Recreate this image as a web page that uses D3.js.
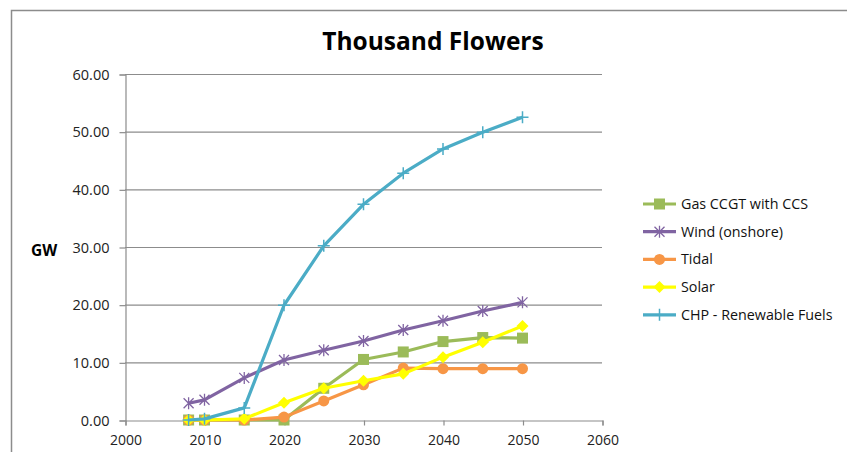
<!DOCTYPE html>
<html>
<head>
<meta charset="utf-8">
<script src="https://cdn.jsdelivr.net/npm/d3@7"></script>
<style>
  body { margin: 0; background: #fff; }
  svg { display: block; }
  text { font-family: "Open Sans", "Noto Sans", sans-serif; }
</style>
</head>
<body>
<svg id="chart" width="847" height="452"></svg>
<script>
// data
const years      = [2008, 2010, 2015, 2020, 2025, 2030, 2035, 2040, 2045, 2050];
const gasCcgt    = [0, 0, 0, 0, 5.5, 10.5, 11.8, 13.6, 14.3, 14.2];
const windOn     = [2.9, 3.5, 7.3, 10.4, 12.1, 13.7, 15.6, 17.2, 18.9, 20.4];
const tidal      = [0, 0, 0, 0.5, 3.3, 6.1, 9.0, 8.9, 8.9, 8.9];
const solar      = [0, 0, 0.2, 3.0, 5.5, 6.8, 8.0, 10.9, 13.5, 16.3];
const chpRenew   = [0, 0.2, 2.1, 19.9, 30.2, 37.4, 42.8, 47.0, 49.9, 52.5];
const seriesNames = ["Gas CCGT with CCS", "Wind (onshore)", "Tidal", "Solar", "CHP - Renewable Fuels"];
const xTicks = [2000, 2010, 2020, 2030, 2040, 2050, 2060];
const yTicks = [0, 10, 20, 30, 40, 50, 60];

const series = [
  {name: seriesNames[0], values: gasCcgt,  color: "#9bbb59", marker: "square"},
  {name: seriesNames[1], values: windOn,   color: "#8064a2", marker: "star"},
  {name: seriesNames[2], values: tidal,    color: "#f79646", marker: "circle"},
  {name: seriesNames[3], values: solar,    color: "#ffff00", marker: "diamond"},
  {name: seriesNames[4], values: chpRenew, color: "#4bacc6", marker: "plus"}
];

const svg = d3.select("#chart");
const axisColor = "#8c8c8c";

// outer chart frame
svg.append("path")
  .attr("d", "M11.5,452 L11.5,10.5 L847,10.5")
  .attr("fill", "none").attr("stroke", axisColor).attr("stroke-width", 1.5);

const plot = {left: 125, right: 602, top: 74, bottom: 420};
const x = d3.scaleLinear().domain([2000, 2060]).range([plot.left, plot.right]);
const y = d3.scaleLinear().domain([0, 60]).range([plot.bottom, plot.top]);

// title
svg.append("text")
  .attr("x", 433).attr("y", 50)
  .attr("text-anchor", "middle")
  .attr("font-size", 24.5).attr("font-weight", "bold").attr("fill", "#000")
  .text("Thousand Flowers");

// gridlines
svg.append("g").selectAll("line").data(yTicks.slice(1)).enter().append("line")
  .attr("x1", plot.left).attr("x2", plot.right)
  .attr("y1", d => y(d) + 0.5).attr("y2", d => y(d) + 0.5)
  .attr("stroke", axisColor).attr("stroke-width", 1.2);

// y axis
let yAxis = svg.append("g").attr("transform", "translate(" + (plot.left + 0.5) + ",0.5)")
  .call(d3.axisLeft(y).tickValues(yTicks).tickFormat(d3.format(".2f")).tickSizeOuter(0).tickSize(6).tickPadding(10));
yAxis.select(".domain").attr("stroke", axisColor).attr("stroke-width", 1.2);
yAxis.selectAll(".tick line").attr("stroke", axisColor).attr("stroke-width", 1.2);
yAxis.selectAll(".tick text").attr("font-size", 14.5).attr("fill", "#222").attr("font-family", "Open Sans, sans-serif");

// x axis
let xAxis = svg.append("g").attr("transform", "translate(0.5," + (plot.bottom + 0.5) + ")")
  .call(d3.axisBottom(x).tickValues(xTicks).tickFormat(d3.format("d")).tickSizeOuter(0).tickSize(5).tickPadding(10));
xAxis.select(".domain").attr("stroke", axisColor).attr("stroke-width", 1.2);
xAxis.selectAll(".tick line").attr("stroke", axisColor).attr("stroke-width", 1.2);
xAxis.selectAll(".tick text").attr("font-size", 14).attr("fill", "#222").attr("font-family", "Open Sans, sans-serif");

// y axis title
svg.append("text")
  .attr("x", 31).attr("y", 256)
  .attr("font-size", 15.5).attr("font-weight", "bold").attr("fill", "#000")
  .text("GW");

function drawMarker(g, type, color, cx, cy){
  if(type == "square"){
    g.append("rect").attr("x", cx - 5.5).attr("y", cy - 5.5).attr("width", 11).attr("height", 11)
      .attr("fill", color);
  }else if(type == "circle"){
    g.append("circle").attr("cx", cx).attr("cy", cy).attr("r", 5.5).attr("fill", color);
  }else if(type == "diamond"){
    g.append("path").attr("d", `M${cx},${cy-6}L${cx+6},${cy}L${cx},${cy+6}L${cx-6},${cy}Z`).attr("fill", color);
  }else if(type == "star"){
    g.append("path")
      .attr("d", `M${cx-5},${cy-5}L${cx+5},${cy+5}M${cx-5},${cy+5}L${cx+5},${cy-5}M${cx},${cy-6}L${cx},${cy+6}`)
      .attr("stroke", color).attr("stroke-width", 1.3).attr("fill", "none");
  }else if(type == "plus"){
    g.append("path")
      .attr("d", `M${cx-6},${cy}L${cx+6},${cy}M${cx},${cy-6}L${cx},${cy+6}`)
      .attr("stroke", color).attr("stroke-width", 1.5).attr("fill", "none");
  }
}

const line = d3.line().x(d => x(d[0])).y(d => y(d[1]));

series.forEach(function(s){
  let g = svg.append("g").attr("class", "series");
  let pts = years.map((yr, i) => [yr, s.values[i]]);
  g.append("path").datum(pts)
    .attr("d", line).attr("fill", "none")
    .attr("stroke", s.color).attr("stroke-width", 3.2)
    .attr("stroke-linejoin", "round");
  pts.forEach(p => drawMarker(g, s.marker, s.color, x(p[0]), y(p[1])));
});

// legend
const legend = svg.append("g").attr("transform", "translate(643,204)");
series.forEach(function(s, i){
  let ly = i * 27.7;
  let g = legend.append("g");
  g.append("line").attr("x1", 0).attr("x2", 33).attr("y1", ly).attr("y2", ly)
    .attr("stroke", s.color).attr("stroke-width", 3.2);
  drawMarker(g, s.marker, s.color, 16.5, ly);
  g.append("text").attr("x", 38).attr("y", ly + 5)
    .attr("font-size", 14.3).attr("fill", "#111")
    .text(s.name);
});
</script>
</body>
</html>
